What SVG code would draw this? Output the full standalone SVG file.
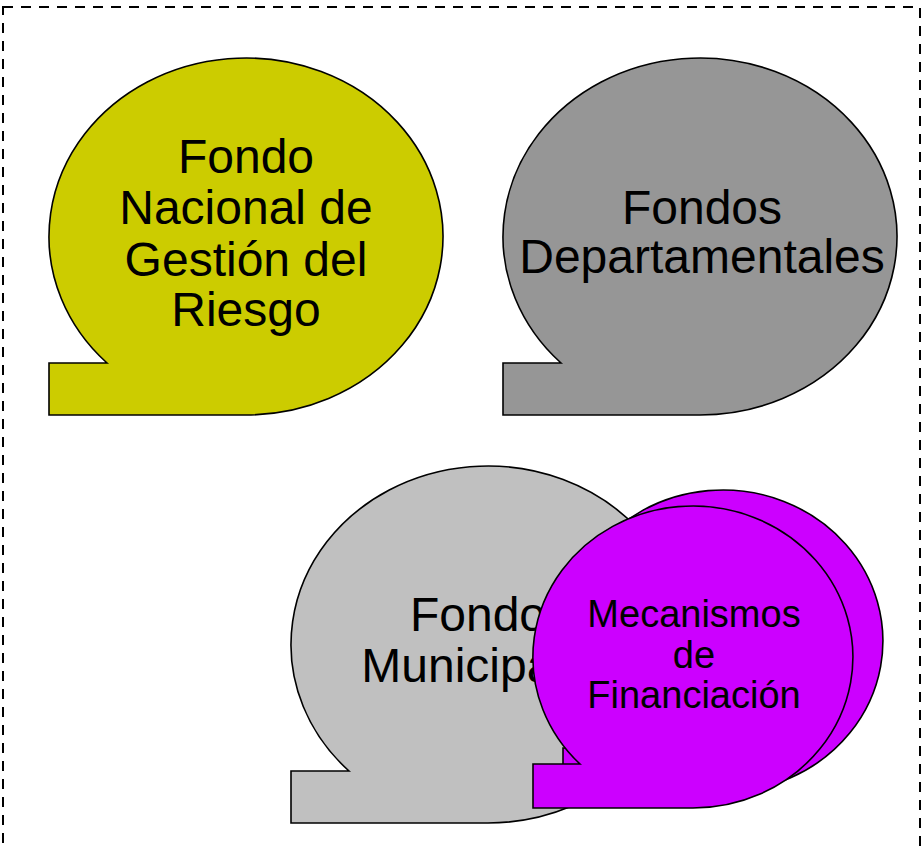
<svg xmlns="http://www.w3.org/2000/svg" width="923" height="851" viewBox="0 0 923 851">
<style>
.b{stroke:#000;stroke-width:1.6;stroke-linejoin:miter}
.t{font-family:"Liberation Sans",Arial,sans-serif;fill:#000;text-anchor:middle}
.big{font-size:48px}
.sm{font-size:38px}
</style>
<rect x="3" y="7" width="917" height="860" fill="none" stroke="#000" stroke-width="2" stroke-dasharray="10 8"/>
<g id="fondo-nacional">
<path class="b" fill="#CCCC00" d="M49,363 L107,363 A197,178.5 0 1 1 246,415 L49,415 Z"/>
<text class="t big" x="246" y="172.5">Fondo</text>
<text class="t big" x="246" y="224">Nacional de</text>
<text class="t big" x="246" y="275.5">Gestión del</text>
<text class="t big" x="246" y="325.5">Riesgo</text>
</g>
<g id="fondos-departamentales">
<path class="b" fill="#969696" d="M503,363 L561,363 A197,178.5 0 1 1 700,415 L503,415 Z"/>
<text class="t big" x="702" y="224">Fondos</text>
<text class="t big" x="702" y="273">Departamentales</text>
</g>
<g id="fondos-municipales">
<path class="b" fill="#C0C0C0" d="M291,771 L349,771 A197,178.5 0 1 1 488,823 L291,823 Z"/>
<text class="t big" x="490" y="630.5">Fondos</text>
<text class="t big" x="488" y="681.5">Municipales</text>
</g>
<g id="mecanismos-financiacion">
<path class="b" fill="#CC00FF" transform="translate(30,-16)" d="M533,764 L580,764 A160,151 0 1 1 693,808 L533,808 Z"/>
<path class="b" fill="#CC00FF" d="M533,764 L580,764 A160,151 0 1 1 693,808 L533,808 Z"/>
<text class="t sm" x="694" y="626.5">Mecanismos</text>
<text class="t sm" x="694" y="667.5">de</text>
<text class="t sm" x="694" y="708">Financiación</text>
</g>
<g id="connectors"/>
</svg>
